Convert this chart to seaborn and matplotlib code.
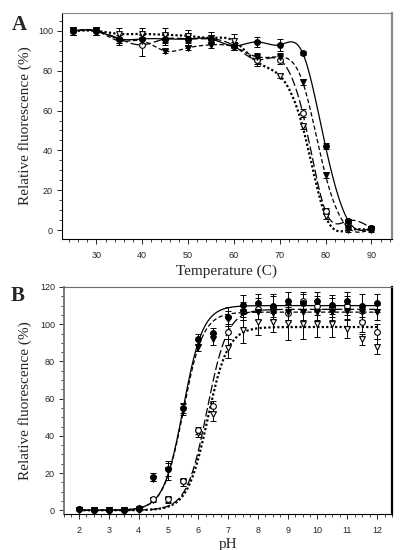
import numpy as np
import pandas as pd
import matplotlib
matplotlib.use("Agg")
import matplotlib.pyplot as plt
from matplotlib.ticker import MultipleLocator
import seaborn as sns

# Panel A: thermal stability
temp = [25, 30, 35, 40, 45, 50, 55, 60, 65, 70, 75, 80, 85, 90]
a_fc = [100, 100, 96, 96, 96, 96, 96, 92.5, 94.5, 93, 89, 42, 4.5, 1]      # filled circle
a_ft = [100, 100, 95, 95, 90, 91.5, 93, 92, 87, 87, 74.5, 27.5, 1, 0.5]    # filled triangle
a_oc = [100, 100, 96, 93, 96, 96, 96, 92.5, 85.5, 85.5, 59, 9.5, 4.7, 1]  # open circle
a_ot = [100, 100, 98.5, 98.5, 98, 97.5, 96.5, 95, 84.5, 77.5, 52, 7, 0, 0]  # open triangle
a_fc_err = [2, 2, 2, 2, 2, 2, 2, 2, 2.5, 3, 1, 1.5, 1, 1]
a_ft_err = [2, 2, 2, 2, 1, 1, 1.5, 1.5, 2, 2, 1.5, 1.5, 1, 1]
a_oc_err = [2, 2, 2, 5.5, 3, 3, 2, 2, 2, 2, 2, 1.5, 1, 1]
a_ot_err = [2, 2, 3, 3, 3.5, 3, 3, 3.5, 2, 1, 1.5, 1.5, 1, 1]

# Panel B: pH stability
ph = [2, 2.5, 3, 3.5, 4, 4.5, 5, 5.5, 6, 6.5, 7, 7.5, 8, 8.5, 9, 9.5, 10, 10.5, 11, 11.5, 12]
b_fc = [0.5, 0.2, 0.2, 0.2, 1.0, 17.8, 22, 55, 92, 95.5, 104, 110.5, 111.5, 110, 112.5, 111.5, 112.5, 110.5, 112.5, 110, 111.5]
b_ft = [0.3, 0.1, 0.1, 0.1, 0.5, 17, 21.5, 54, 87.5, 92, 103, 106.5, 106.5, 106, 106.5, 106.5, 106.5, 106.5, 107, 106.5, 106.5]
b_oc = [0.5, 0.2, 0.2, 0.2, 0.5, 6, 6, 16, 43, 56, 96, 107, 108, 109, 106, 112.5, 110, 109, 110, 101, 96]
b_ot = [0.3, 0.1, 0.1, 0.1, 0.3, 5.5, 5.5, 15, 41.5, 52, 87, 97, 101, 101, 100.5, 100, 100, 100, 97.5, 92, 88]
b_fc_err = [0.5, 0.3, 0.3, 0.3, 0.5, 2, 3.5, 2.5, 3, 2.5, 5, 5, 5, 6, 5, 5, 5, 5, 5, 6, 5]
b_ft_err = [0.3, 0.3, 0.3, 0.3, 0.5, 1.5, 5, 3, 2, 3, 4, 4, 4, 4, 4, 4, 4, 4, 4, 4, 4]
b_oc_err = [0.3, 0.3, 0.3, 0.3, 0.3, 1, 1.5, 1.5, 2, 3, 4, 5, 6, 6, 5, 5, 5, 5, 5, 5, 4]
b_ot_err = [0.3, 0.3, 0.3, 0.3, 0.3, 1, 1.5, 2, 2, 4, 5, 7, 7, 5, 9, 8, 7, 7, 5, 3, 4]

# sigmoid fit parameters for panel B: (top, pH50, slope)
b_fits = {"fc": (110, 5.5, 0.33), "ft": (106.5, 5.5, 0.33),
          "oc": (108, 6.3, 0.34), "ot": (98.5, 6.32, 0.34)}


def spline(x, y, n=400):
    # natural cubic spline through the points (SigmaPlot-like smooth line)
    x = np.asarray(x, float)
    y = np.asarray(y, float)
    h = np.diff(x)
    m = len(x)
    A = np.zeros((m, m))
    r = np.zeros(m)
    A[0, 0] = A[-1, -1] = 1
    for i in range(1, m - 1):
        A[i, i - 1] = h[i - 1]
        A[i, i] = 2 * (h[i - 1] + h[i])
        A[i, i + 1] = h[i]
        r[i] = 6 * ((y[i + 1] - y[i]) / h[i] - (y[i] - y[i - 1]) / h[i - 1])
    M = np.linalg.solve(A, r)
    xs = np.linspace(x[0], x[-1], n)
    k = np.clip(np.searchsorted(x, xs) - 1, 0, m - 2)
    t0 = x[k + 1] - xs
    t1 = xs - x[k]
    ys = (M[k] * t0 ** 3 + M[k + 1] * t1 ** 3) / (6 * h[k]) \
        + (y[k] / h[k] - M[k] * h[k] / 6) * t0 + (y[k + 1] / h[k] - M[k + 1] * h[k] / 6) * t1
    return xs, ys


sns.set_style("ticks")
serif = "Liberation Serif"
plt.rcParams["font.family"] = ["Liberation Sans", "DejaVu Sans"]

styles = {
    "fc": dict(marker="o", fc="black", dash=None, lw=0.9),
    "ft": dict(marker="v", fc="black", dash=(3.5, 2), lw=0.9),
    "oc": dict(marker="o", fc="white", dash=(7, 2.5), lw=0.9),
    "ot": dict(marker="v", fc="white", dash=(1, 1), lw=1.6),
}

fig = plt.figure(figsize=(4.03, 5.5), dpi=100)
axA = fig.add_axes([62 / 403, 1 - 239 / 550, 330 / 403, 226 / 550])
axB = fig.add_axes([64 / 403, 1 - 514 / 550, 328 / 403, 227 / 550])


def draw(ax, x, series, errs, lines):
    for key in ["ot", "oc", "ft", "fc"]:
        st = styles[key]
        lx, ly = lines[key]
        sns.lineplot(x=lx, y=ly, ax=ax, color="black", lw=st["lw"],
                     dashes=False, estimator=None, sort=False)
        if st["dash"] is not None:
            ax.lines[-1].set_dashes(st["dash"])
    for key in ["ot", "oc", "ft", "fc"]:
        st = styles[key]
        ax.errorbar(x, series[key], yerr=errs[key], fmt="none", ecolor="black",
                    elinewidth=0.7, capsize=2.5, capthick=0.7, zorder=3)
        df = pd.DataFrame({"x": x, "y": series[key]})
        sns.scatterplot(data=df, x="x", y="y", ax=ax, marker=st["marker"], s=17,
                        color=st["fc"], edgecolor="black", linewidth=0.8, zorder=4)


# Panel A
serA = {"fc": a_fc, "ft": a_ft, "oc": a_oc, "ot": a_ot}
errA = {"fc": a_fc_err, "ft": a_ft_err, "oc": a_oc_err, "ot": a_ot_err}
linesA = {k: spline(temp, v) for k, v in serA.items()}
draw(axA, temp, serA, errA, linesA)

# Panel B
serB = {"fc": b_fc, "ft": b_ft, "oc": b_oc, "ot": b_ot}
errB = {"fc": b_fc_err, "ft": b_ft_err, "oc": b_oc_err, "ot": b_ot_err}
xs = np.linspace(ph[0], ph[-1], 400)
linesB = {k: (xs, top / (1 + np.exp((p50 - xs) / s))) for k, (top, p50, s) in b_fits.items()}
draw(axB, ph, serB, errB, linesB)

axA.set_xlim(22.5, 94.5)
axA.set_ylim(-4.5, 109)
axA.set_xticks(range(30, 91, 10))
axA.xaxis.set_minor_locator(MultipleLocator(2))
axA.set_yticks(range(0, 101, 20))
axA.yaxis.set_minor_locator(MultipleLocator(5))
axA.set_xlabel("Temperature (C)", family=serif, fontsize=11)
axA.xaxis.set_label_coords(0.5, -0.115)

axB.set_xlim(1.5, 12.5)
axB.set_ylim(-2, 120)
axB.set_xticks(range(2, 13))
axB.xaxis.set_minor_locator(MultipleLocator(0.25))
axB.set_yticks(range(0, 121, 20))
axB.yaxis.set_minor_locator(MultipleLocator(5))
axB.set_xlabel("pH", family=serif, fontsize=11)
axB.xaxis.set_label_coords(0.5, -0.105)

for ax, yc in [(axA, -0.091), (axB, -0.098)]:
    ax.set_ylabel("Relative fluorescence (%)", family=serif, fontsize=11)
    ax.yaxis.set_label_coords(yc, 0.5)
    ax.tick_params(which="major", direction="out", length=3.5, width=0.7,
                   labelsize=6.5, pad=3)
    ax.tick_params(which="minor", direction="out", length=2, width=0.6)
    ax.tick_params(axis="x", which="major", pad=5)
    for side in ["top", "right", "left", "bottom"]:
        ax.spines[side].set_visible(True)
        ax.spines[side].set_color("black")
        ax.spines[side].set_linewidth(0.8)

axA.spines["top"].set_color("#8a8a8a")
axA.spines["right"].set_color("#8a8a8a")
axA.spines["right"].set_linewidth(1.6)
axB.spines["top"].set_color("#6a6a6a")
axB.spines["left"].set_color("#7a7a7a")
axB.spines["left"].set_linewidth(1.4)
axB.spines["right"].set_linewidth(1.6)

fig.text(0.048, 0.955, "A", family=serif, fontsize=15, fontweight="bold", ha="center", va="center")
fig.text(0.045, 0.462, "B", family=serif, fontsize=15, fontweight="bold", ha="center", va="center")

fig.savefig("out.png", dpi=100)
